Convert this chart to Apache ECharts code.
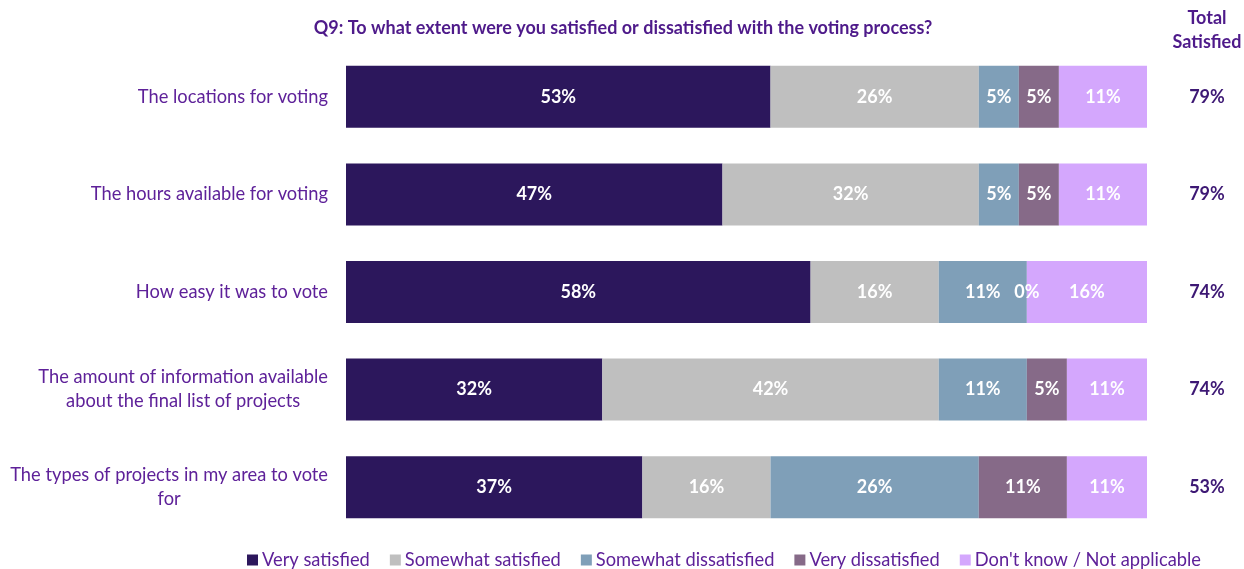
<!DOCTYPE html>
<html>
<head>
<meta charset="utf-8">
<script src="https://cdn.jsdelivr.net/npm/echarts@6/dist/echarts.min.js"></script>
<style>
html, body { margin: 0; padding: 0; background: #ffffff; }
#chart { width: 1244px; height: 569px; }
</style>
</head>
<body>
<div id="chart"></div>
<script>
// Survey items (top to bottom)
const categories = [
  'The locations for voting',
  'The hours available for voting',
  'How easy it was to vote',
  'The amount of information available\nabout the final list of projects',
  'The types of projects in my area to vote\nfor'
];

// Response shares, percent
const verySatisfied        = [53, 47, 58, 32, 37];
const somewhatSatisfied    = [26, 32, 16, 42, 16];
const somewhatDissatisfied = [5, 5, 11, 11, 26];
const veryDissatisfied     = [5, 5, 0, 5, 11];
const dontKnow             = [11, 11, 16, 11, 11];

// Very + somewhat satisfied
const totalSatisfied = [79, 79, 74, 74, 53];

const seriesNames = [
  'Very satisfied',
  'Somewhat satisfied',
  'Somewhat dissatisfied',
  'Very dissatisfied',
  "Don't know / Not applicable"
];
const seriesData = [verySatisfied, somewhatSatisfied, somewhatDissatisfied, veryDissatisfied, dontKnow];
const colors = ['#2c175c', '#bfbfbf', '#7f9fb8', '#866a88', '#d4a7fd'];

const FONT = 'Lato, "Liberation Sans", sans-serif';
const PURPLE = '#5e2199';
const DARK_PURPLE = '#4e1a8a';

const chart = echarts.init(document.getElementById('chart'), null, { renderer: 'canvas' });

chart.setOption({
  backgroundColor: '#ffffff',
  animation: false,
  color: colors,
  graphic: [
    {
      type: 'text', x: 623, y: 28,
      style: {
        text: 'Q9: To what extent were you satisfied or dissatisfied with the voting process?',
        align: 'center', verticalAlign: 'middle',
        font: 'bold 18px ' + FONT, fill: DARK_PURPLE
      }
    },
    {
      type: 'text', x: 1207, y: 30,
      style: {
        text: 'Total\nSatisfied',
        align: 'center', verticalAlign: 'middle', lineHeight: 24,
        font: 'bold 18px ' + FONT, fill: DARK_PURPLE
      }
    }
  ],
  legend: {
    top: 551, left: 247, padding: 0,
    itemWidth: 11, itemHeight: 11, itemGap: 20,
    icon: 'rect',
    textStyle: { fontFamily: FONT, fontSize: 18.3, color: PURPLE, padding: [0, 0, 0, -1] },
    data: seriesNames
  },
  grid: { left: 346, right: 97, top: 48, bottom: 33 },
  xAxis: {
    type: 'value', min: 0, max: 100, show: false
  },
  yAxis: [
    {
      type: 'category', data: categories, inverse: true,
      axisLine: { show: false }, axisTick: { show: false },
      axisLabel: {
        margin: 18, align: 'right',
        // each line centred within the right-aligned block
        formatter: v => v.split('\n').map(l => '{c|' + l + '}').join('\n'),
        rich: {
          c: { align: 'center', fontFamily: FONT, fontSize: 18.3, color: PURPLE, lineHeight: 24 }
        }
      }
    },
    {
      type: 'category', data: totalSatisfied, inverse: true, position: 'right',
      axisLine: { show: false }, axisTick: { show: false },
      axisLabel: {
        margin: 60, align: 'center',
        fontFamily: FONT, fontSize: 18, fontWeight: 'bold', color: '#3d1874',
        formatter: v => v + '%'
      }
    }
  ],
  series: seriesNames.map((name, i) => ({
    name: name,
    type: 'bar',
    stack: 'total',
    barWidth: 62,
    data: seriesData[i],
    label: {
      show: true, position: 'inside',
      fontFamily: FONT, fontSize: 18, fontWeight: 'bold', color: '#ffffff',
      formatter: p => p.value + '%'
    }
  }))
});
</script>
</body>
</html>
